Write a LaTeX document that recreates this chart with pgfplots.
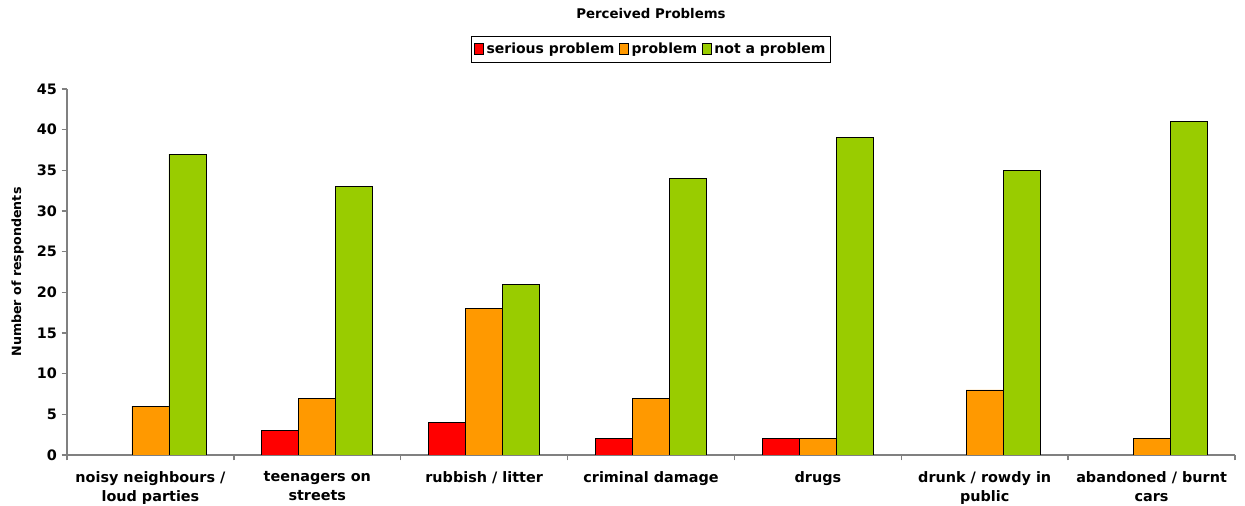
\documentclass[border=0pt]{standalone}
\usepackage{fontspec}
\setmainfont{DejaVu Sans}
\usepackage{pgfplots}
\pgfplotsset{compat=1.18}
\definecolor{serious}{HTML}{FF0000}
\definecolor{prob}{HTML}{FF9900}
\definecolor{notprob}{HTML}{99CC00}
\definecolor{axgray}{HTML}{808080}

\begin{document}
\begin{tikzpicture}
\useasboundingbox (0pt,0pt) rectangle (933.75pt,379.5pt);
\begin{axis}[
    at={(50.25pt,38.25pt)}, anchor=south west,
    scale only axis,
    width=876pt, height=274.5pt,
    ybar=0pt, bar width=27.75pt,
    xmin=-0.5, xmax=6.5, ymin=0, ymax=45,
    axis x line*=bottom, axis y line*=left,
    axis line style={axgray, line width=1.2pt},
    every axis plot/.append style={draw=black, line width=0.6pt},
    xtick={0,...,6},
    xticklabels={{noisy neighbours /\\loud parties},{teenagers on\\streets},{rubbish / litter},{criminal damage},{drugs},{drunk / rowdy in\\public},{abandoned / burnt\\cars}},
    xticklabel style={align=center, font=\fontsize{10.8}{14}\selectfont\bfseries, text=black, yshift=-5pt},
    major x tick style={draw=none},
    minor xtick={-0.5,0.5,...,6.5},
    minor x tick style={axgray, line width=1pt},
    ytick={0,5,...,45},
    tick align=outside,
    major tick length=4pt, minor tick length=4pt,
    y tick style={axgray, line width=1pt},
    yticklabel style={font=\fontsize{10.8}{13}\selectfont\bfseries},
    /pgf/number format/assume math mode=true,
    ylabel={Number of respondents},
    ylabel style={font=\fontsize{9.5}{11}\selectfont\bfseries, yshift=3pt},
    title={Perceived Problems},
    title style={font=\fontsize{10}{12}\selectfont\bfseries, yshift=43pt},
    legend columns=3,
    legend style={at={(0.5,1.0)}, anchor=south, yshift=20pt, draw=black, line width=0.6pt,
        font=\fontsize{10.5}{12}\selectfont\bfseries, inner xsep=2pt, inner ysep=3pt,
        /tikz/every even column/.append style={column sep=1.5pt}},
    legend image code/.code={\draw[#1, line width=0.5pt] (0pt,-4pt) rectangle (7pt,4pt);},
]
\addplot[fill=serious] coordinates {(1,3) (2,4) (3,2) (4,2)};
\addplot[fill=prob] coordinates {(0,6) (1,7) (2,18) (3,7) (4,2) (5,8) (6,2)};
\addplot[fill=notprob] coordinates {(0,37) (1,33) (2,21) (3,34) (4,39) (5,35) (6,41)};
\legend{serious problem,problem,not a problem}
\end{axis}
\end{tikzpicture}
\end{document}
